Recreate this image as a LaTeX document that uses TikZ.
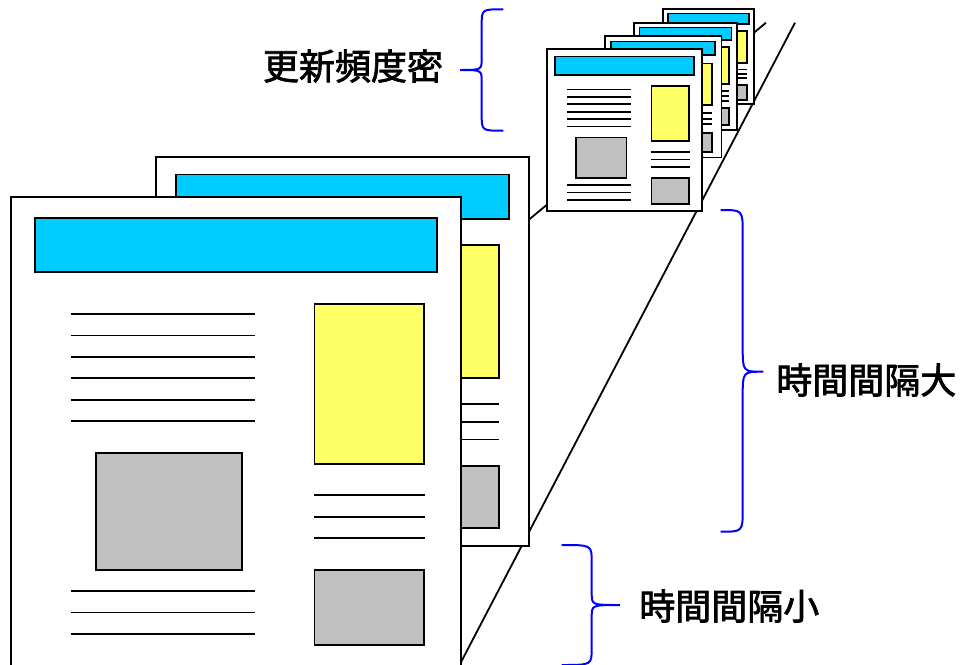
\documentclass[tikz,border=0pt]{standalone}
\usepackage{fontspec}
\newfontfamily\cjk{Noto Sans CJK JP}[FakeBold=2]
\definecolor{barcyan}{RGB}{0,204,255}
\definecolor{paleyellow}{RGB}{255,255,102}
\definecolor{boxgray}{RGB}{192,192,192}
\definecolor{braceblue}{RGB}{0,0,255}
\tikzset{
  pagebox/.style={draw=black, fill=white, line width=1.8pt},
  barbox/.style={draw=black, fill=barcyan, line width=1.8pt},
  yelbox/.style={draw=black, fill=paleyellow, line width=1.8pt},
  graybox/.style={draw=black, fill=boxgray, line width=1.8pt},
  txtline/.style={draw=black, line width=1.8pt},
  rail/.style={draw=black, line width=1.8pt},
  bracepath/.style={draw=braceblue, line width=2pt},
  lbl/.style={font=\cjk\fontsize{36}{42}\selectfont, inner sep=0pt, anchor=center},
  newspage/.pic={
    \draw[pagebox] (0,0) rectangle (450,469);
    \draw[barbox] (24.1,21) rectangle (425.9,74.7);
    \foreach \yy in {116.7,138.1,159.5,180.9,202.3,223.7}
      \draw[txtline] (60.2,\yy) -- (243.8,\yy);
    \draw[graybox] (85.3,255.4) rectangle (231.3,373);
    \foreach \yy in {393.7,415.1,436.5}
      \draw[txtline] (60.2,\yy) -- (243.8,\yy);
    \draw[yelbox] (303.7,106.4) rectangle (413.5,266.4);
    \foreach \yy in {298,319.4,340.8}
      \draw[txtline] (303.7,\yy) -- (413.9,\yy);
    \draw[graybox] (303.7,373) rectangle (413.5,447.4);
  }
}
\begin{document}
\begin{tikzpicture}[x=1pt, y=-1pt]
  \useasboundingbox (0,0) rectangle (960,664);
  \clip (0,0) rectangle (960,664);
  % rails
  \coordinate (railAlow) at (470,268.6);
  \coordinate (railAhigh) at (766,22.7);
  \coordinate (railBlow) at (460.7,662.7);
  \coordinate (railBhigh) at (795,22.7);
  \draw[rail] (railAlow) -- (railAhigh);
  \draw[rail] (railBlow) -- (railBhigh);
  % large pages
  \begin{scope}[shift={(156,157)}, scale=0.829, transform shape]
    \pic (backpage) {newspage};
  \end{scope}
  \begin{scope}[shift={(10.7,197.3)}, transform shape]
    \pic (frontpage) {newspage};
  \end{scope}
  % small pages (back to front)
  \begin{scope}[shift={(663.3,9.3)}, scale=0.202, transform shape]
    \pic (smallfour) {newspage};
  \end{scope}
  \begin{scope}[shift={(634,22.7)}, scale=0.229, transform shape]
    \pic (smallthree) {newspage};
  \end{scope}
  \begin{scope}[shift={(605,36)}, scale=0.259, transform shape]
    \pic (smalltwo) {newspage};
  \end{scope}
  \begin{scope}[shift={(546.7,49.3)}, scale=0.345, transform shape]
    \pic (smallone) {newspage};
  \end{scope}
  % braces
  \draw[bracepath] (503.3,9.3) .. controls (481.7,9.3) .. (481.7,25)
    -- (481.7,58) .. controls (481.7,70) .. (460,70)
    .. controls (481.7,70) .. (481.7,82)
    -- (481.7,115) .. controls (481.7,130.7) .. (503.3,130.7);
  \draw[bracepath] (720.7,210) .. controls (742.7,210) .. (742.7,233)
    -- (742.7,347) .. controls (742.7,371.7) .. (763.3,371.7)
    .. controls (742.7,371.7) .. (742.7,396)
    -- (742.7,509) .. controls (742.7,531.7) .. (720.7,531.7);
  \draw[bracepath] (561.7,545) .. controls (591.7,545) .. (591.7,562)
    -- (591.7,593) .. controls (591.7,605) .. (620,605)
    .. controls (591.7,605) .. (591.7,617)
    -- (591.7,648) .. controls (591.7,665) .. (561.7,665);
  % labels
  \node[lbl] (freq) at (353,66) {更新頻度密};
  \node[lbl] (biggap) at (866.3,380) {時間間隔大};
  \node[lbl] (smallgap) at (729.3,606) {時間間隔小};
\end{tikzpicture}
\end{document}
